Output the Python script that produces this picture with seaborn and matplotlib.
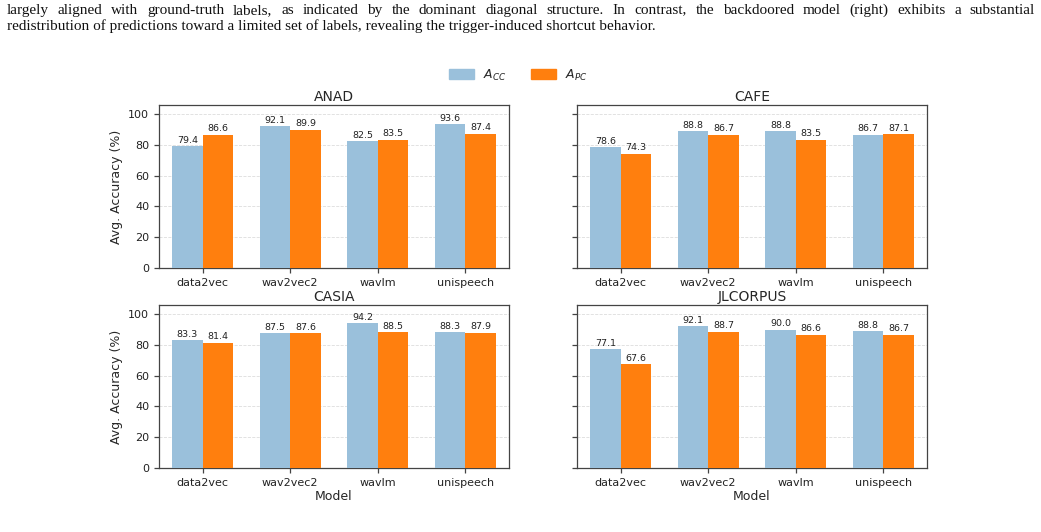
import seaborn as sns
import pandas as pd
import matplotlib.pyplot as plt
from matplotlib.patches import Patch

models = ['data2vec', 'wav2vec2', 'wavlm', 'unispeech']
datasets = ['ANAD', 'CAFE', 'CASIA', 'JLCORPUS']

acc_cc = {
    'ANAD': [79.4, 92.1, 82.5, 93.6],
    'CAFE': [78.6, 88.8, 88.8, 86.7],
    'CASIA': [83.3, 87.5, 94.2, 88.3],
    'JLCORPUS': [77.1, 92.1, 90.0, 88.8],
}
acc_pc = {
    'ANAD': [86.6, 89.9, 83.5, 87.4],
    'CAFE': [74.3, 86.7, 83.5, 87.1],
    'CASIA': [81.4, 87.6, 88.5, 87.9],
    'JLCORPUS': [67.6, 88.7, 86.6, 86.7],
}
metrics = ['$A_{CC}$', '$A_{PC}$']
colors = ['#9ac0db', '#ff7f0e']

caption_lines = [
    'largely aligned with ground-truth labels, as indicated by the dominant diagonal structure. In contrast, the backdoored model (right) exhibits a substantial',
    'redistribution of predictions toward a limited set of labels, revealing the trigger-induced shortcut behavior.',
]

sns.set_style('white')
plt.rcParams['font.family'] = ['DejaVu Sans']

fig = plt.figure(figsize=(10.41, 5.32), dpi=100)

W, H = 1041, 532
lefts = [159, 577]
tops = [105, 305]
aw, ah = 350, 163

for i, name in enumerate(datasets):
    r, c = divmod(i, 2)
    ax = fig.add_axes([lefts[c] / W, 1 - (tops[r] + ah) / H, aw / W, ah / H])
    df = pd.DataFrame({
        'Model': models * 2,
        'Accuracy': acc_cc[name] + acc_pc[name],
        'Metric': [metrics[0]] * 4 + [metrics[1]] * 4,
    })
    sns.barplot(data=df, x='Model', y='Accuracy', hue='Metric', palette=colors,
                width=0.7, gap=0, saturation=1, linewidth=0, legend=False, ax=ax, zorder=3)
    for cont in ax.containers:
        ax.bar_label(cont, fmt='%.1f', fontsize=6.8, padding=1, color='#222222')
    ax.set_ylim(0, 106)
    ax.set_xlim(-0.5, 3.5)
    ax.set_yticks([0, 20, 40, 60, 80, 100])
    ax.grid(axis='y', ls='--', color='#dddddd', lw=0.6, zorder=0)
    ax.set_axisbelow(True)
    for sp in ax.spines.values():
        sp.set_visible(True)
        sp.set_color('#444444')
        sp.set_linewidth(0.9)
    ax.tick_params(axis='both', labelsize=8, color='#444444', length=3.5, width=0.9,
                   labelcolor='#222222', bottom=True, left=True)
    ax.set_title(name, fontsize=10, pad=3)
    if c == 0:
        ax.set_ylabel('Avg. Accuracy (%)', fontsize=9)
    else:
        ax.set_ylabel('')
        ax.set_yticklabels([])
    if r == 1:
        ax.set_xlabel('Model', fontsize=9, labelpad=2)
    else:
        ax.set_xlabel('')

handles = [Patch(color=colors[0], label=metrics[0]), Patch(color=colors[1], label=metrics[1])]
fig.legend(handles=handles, loc='center', bbox_to_anchor=(518 / W, 1 - 75 / H), ncol=2,
           frameon=False, fontsize=9, handlelength=2.0, handleheight=0.8,
           handletextpad=0.7, columnspacing=2.0)

# caption text from the page, first line justified to the full width
renderer = fig.canvas.get_renderer()
x_left, x_right = 7, 1035
cap_size = 11
for k, line in enumerate(caption_lines):
    y = 1 - (14 + 16 * k) / H
    words = line.split(' ')
    if k == len(caption_lines) - 1:
        fig.text(x_left / W, y, line, family='Liberation Serif', fontsize=cap_size,
                 va='baseline', ha='left', color='#111111')
        continue
    texts = [fig.text(0, y, w, family='Liberation Serif', fontsize=cap_size,
                      va='baseline', ha='left', color='#111111') for w in words]
    widths = [t.get_window_extent(renderer).width for t in texts]
    gap = (x_right - x_left - sum(widths)) / (len(words) - 1)
    x = x_left
    for t, wd in zip(texts, widths):
        t.set_x(x / W)
        x += wd + gap

fig.savefig('out.png', dpi=100)
